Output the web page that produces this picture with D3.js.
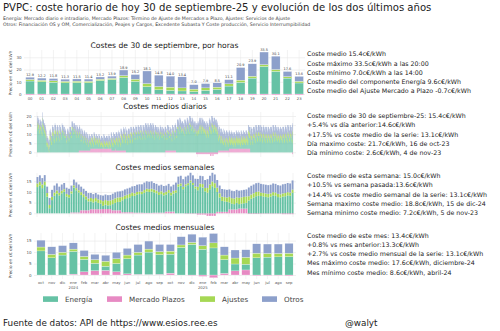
<!DOCTYPE html>
<html lang="es">
<head>
<meta charset="UTF-8">
<title>PVPC coste horario</title>
<script src="https://cdnjs.cloudflare.com/ajax/libs/d3/7.8.5/d3.min.js"></script>
<style>
  body { margin: 0; background: #fff; }
  svg { display: block; }
</style>
</head>
<body>
<svg width="500" height="331"></svg>
<script>
const FONT = "DejaVu Sans, Verdana, sans-serif";

// series order for stacking (plazos sits at the bottom) and for the legend
const stackKeys = ["plazos", "energia", "ajustes", "otros"];
const legendKeys = ["energia", "plazos", "ajustes", "otros"];
const colors = {energia: "#66c2a5", plazos: "#e78ac3", ajustes: "#a6d854", otros: "#8da0cb"};
const names = {energia: "Energía", plazos: "Mercado Plazos", ajustes: "Ajustes", otros: "Otros"};

// ---- hourly, 30 sep 2025 ----
const hours = ["00","01","02","03","04","05","06","07","08","09","10","11","12","13","14","15","16","17","18","19","20","21","22","23"];
const hourEnergia = [10.6,10.0,9.6,9.1,9.3,9.2,11.0,11.8,13.5,10.3,6.0,3.5,3.0,2.5,2.0,3.0,3.8,6.5,9.5,13.0,22.5,18.5,13.0,9.0];
const hourPlazos = [-0.8,-0.8,-0.8,-0.8,-0.8,-0.8,-0.7,-0.7,-0.7,-0.7,-0.7,-0.6,-0.6,-0.6,-0.6,-0.6,-0.6,-0.6,-0.7,-0.8,-0.8,-0.8,-0.8,-0.8];
const hourAjustes = [1.3,1.2,1.2,1.2,1.2,1.2,1.1,1.0,1.5,1.8,2.5,2.6,2.6,2.5,2.0,2.0,1.8,1.8,1.8,1.5,1.5,1.5,1.2,1.4];
const hourOtros = [1.8,1.8,1.8,1.8,1.8,1.8,1.8,1.8,4.6,3.8,10.3,9.3,9.0,9.0,3.6,3.5,3.5,3.4,10.3,10.2,10.3,10.9,4.2,4.0];
const hourInfo = [
  "Coste medio 15.4c€/kWh",
  "Coste máximo 33.5c€/kWh a las 20:00",
  "Coste mínimo 7.0c€/kWh a las 14:00",
  "Coste medio del componente Energía 9.6c€/kWh",
  "Coste medio del Ajuste Mercado a Plazo -0.7c€/kWh"
];

// ---- daily, 1 oct 2023 .. 30 sep 2025 (one line per week, Mon..Sun) ----
const dailyEnergia = [
  12,
  14,15,14,13,13,11,10, 13,13,12,12,12,10,9, 17,14,13,12,13,11,10, 11,10,9,8,7,4,3,
  4,3,3,2,1,0,2, 7,8,7,6,6,4,4, 9,10,9,9,8,6,5, 10,11,10,10,9,7,6,
  10,10,9,9,8,7,6, 11,11,10,10,9,8,7, 12,11,11,11,10,9,8, 10,10,9,8,8,6,5, 6,8,9,9,8,7,6,
  7,10,10,10,10,8,8, 13,13,13,12,12,10,10, 12,12,11,11,10,9,8, 11,11,10,10,9,8,8,
  10,9,9,8,7,5,5, 8,8,7,7,6,5,4, 7,7,6,6,5,4,3, 6,6,5,5,4,3,2,
  5,5,4,4,3,2,1, 4,4,4,3,3,2,1, 5,5,4,4,3,2,2, 4,4,3,3,3,2,1, 4,4,3,3,2,1,1,
  2,2,2,1,1,1,0, 3,3,2,2,1,1,1, 2,2,2,2,1,1,0, 2,3,2,2,1,1,0,
  4,4,4,3,3,2,2, 5,5,4,4,4,2,2, 5,5,5,5,4,3,2, 5,6,5,5,4,3,2,
  7,7,6,6,5,4,4, 7,8,7,7,6,4,4, 8,8,7,7,7,5,4, 8,8,8,8,7,5,5, 9,9,9,8,8,6,5,
  10,10,10,9,9,7,7, 10,11,10,10,10,8,7, 11,11,10,10,10,8,7, 11,11,11,10,9,8,7,
  11,11,10,10,9,8,7, 11,11,11,10,10,9,8, 11,11,10,9,10,9,8, 11,11,11,10,10,9,8,
  11,11,10,10,9,8,7, 11,11,10,10,10,9,8, 10,10,10,9,9,8,7, 11,10,10,10,9,8,8, 10,10,9,9,9,8,7,
  10,9,9,8,8,6,6, 10,10,10,9,9,7,7, 9,9,8,8,8,6,5, 10,10,9,9,8,7,6,
  10,11,10,10,9,8,8, 13,13,13,13,12,11,10, 14,14,13,13,12,11,11, 12,12,12,11,11,10,9,
  13,13,13,12,12,11,10, 14,14,13,13,12,11,10, 15,15,15,14,14,12,12, 14,14,13,13,12,11,11, 12,12,9,11,12,10,11,
  11,11,9,11,11,10,10, 12,13,13,13,12,11,10, 13,13,12,12,12,11,10, 11,11,11,10,10,9,8,
  11,11,10,10,10,9,8, 12,13,12,12,11,10,10, 14,14,14,13,13,11,11, 13,13,13,12,12,11,10,
  12,12,11,10,9,6,5, 8,7,7,6,6,4,4, 6,6,5,4,4,3,3, 6,5,5,4,4,3,2, 5,5,5,4,4,3,2,
  4,4,4,3,3,2,2, 4,3,3,3,2,2,1, 3,3,3,3,2,2,1, 4,4,3,3,3,2,2,
  4,3,3,3,2,2,1, 4,4,3,3,2,2,2, 4,4,3,3,3,2,2, 4,4,4,3,3,2,2,
  7,7,6,6,6,4,4, 8,8,7,7,7,5,4, 8,8,8,8,7,6,5, 9,9,9,8,8,6,6, 9,9,9,9,8,6,6,
  9,9,8,8,8,6,5, 8,9,8,8,7,6,5, 8,8,8,8,7,6,5, 8,8,8,7,7,6,5,
  8,8,8,8,7,6,5, 9,9,9,8,8,6,6, 9,9,8,8,7,6,6, 8,8,8,7,7,6,5, 8,8,7,7,7,6,5,
  8,8,8,8,7,6,5, 9,8,8,8,7,6,5, 9,9,9,8,8,6,6, 9,9,8,8,8,6,5,
  9,10
];
// one line per month
const dailyPlazos = [
  0,0,0,0,0,0,0,0,0,0, 0,0,0,0,0,0,0,0,0,0, 0,0,0,0,0,0,0,0,0,0, 0,
  0,0,0,0,0,0,0,0,0,0, 0,0,0,0,0,0,0,0,0,0, 0,0,0,0,0,0,0,0,0,0,
  0,0,0,0,0,0,0,0,0,0, 0,0,0,0,0,0,0,0,0,0, 0,0,0,0,0,0,0,0,0,0, 0,
  0,0,0,0,0,0,0,0,0,0, 0,0,0,0,0,0,0,0,0,0, 0,0,0,0,0,0,0,1,1,1, 1,
  1,1,1,1,1,1,1,1,1,1, 1,1,1,1,1,1,1,1,1,1, 1,1,1,1,1,1,1,1,1,
  2,2,2,2,2,2,2,2,2,2, 2,2,2,2,2,2,2,2,2,2, 2,2,2,2,2,2,2,2,2,2, 2,
  2,2,2,2,2,2,2,2,2,2, 2,2,2,2,2,2,2,2,2,2, 2,2,2,2,2,2,2,2,2,2,
  1,1,1,1,1,1,1,1,1,1, 2,2,1,1,1,1,1,1,1,1, 1,1,1,1,1,1,1,1,1,1, 1,
  1,1,1,1,1,1,1,1,1,1, 0,0,0,0,0,0,0,0,0,0, 0,0,0,0,0,0,0,0,0,0,
  0,0,0,0,0,0,0,0,0,0, 0,0,0,0,0,0,0,0,0,0, 0,0,0,0,0,0,0,0,0,0, 0,
  0,0,0,0,0,0,0,0,0,0, 0,0,0,0,0,0,0,0,0,0, 0,0,0,0,0,0,0,0,0,0, 0,
  0,0,0,0,0,0,0,0,0,0, 0,0,0,0,0,0,0,0,0,0, 0,0,0,0,0,0,0,0,0,0,
  1,1,1,1,1,1,1,1,1,1, 1,1,1,1,1,1,1,1,1,1, 1,1,1,1,1,1,1,1,1,1, 1,
  0,0,0,0,0,0,0,0,0,0, 0,0,0,0,0,0,0,0,0,0, 0,0,0,0,0,0,0,0,0,0,
  0,0,0,0,0,0,0,0,0,0, 0,0,0,0,0,0,0,0,0,0, 0,0,0,0,0,0,0,-1,-1,-1, -1,
  -1,-1,-1,-1,-1,-1,-1,-1,-1,-1, -1,-1,-1,-1,-1,-1,-1,-1,-1,-1, -1,-1,-1,-1,-1,-1,-1,-1,-1,-1, -1,
  -1,-1,-1,-1,-1,-2,-2,-2,-2,-1, -1,-1,-2,-2,-2,-1,-1,-1,-1,-1, -1,-1,-1,-1,-1,-1,-1,-1,
  1,1,1,1,1,1,1,1,1,1, 1,1,1,1,1,1,1,1,1,1, 1,1,1,1,1,1,1,1,1,1, 1,
  2,2,2,2,2,2,2,2,2,2, 2,2,2,2,2,2,2,2,2,2, 2,2,2,2,2,2,2,2,2,2,
  2,2,2,2,2,2,2,2,2,2, 2,2,2,2,2,2,2,2,2,2, 2,2,2,2,2,2,2,2,2,2, 2,
  0,0,0,0,0,0,0,0,0,0, 0,0,0,0,0,0,0,0,0,0, 0,0,0,0,0,0,0,0,0,0,
  0,0,0,0,0,0,0,0,0,0, 0,0,0,0,0,0,0,0,0,0, 0,0,0,0,0,0,0,0,0,0, 0,
  0,0,0,0,0,0,0,0,0,0, 0,0,0,0,0,0,0,0,0,0, 0,0,0,0,0,0,0,0,0,0, 0,
  0,0,0,0,0,0,0,0,0,0, 0,0,0,0,0,0,0,0,0,0, 0,0,0,0,0,0,0,0,-1,-1
];
const dailyAjustes = [
  2,2,2,2,2,2,2,2,2,2, 2,2,2,2,2,2,2,2,2,2, 2,2,2,2,2,2,2,2,2,2, 2,
  2,2,2,1,2,2,2,2,2,2, 2,2,2,2,2,2,2,2,2,2, 2,2,2,2,2,2,2,2,2,2,
  1,1,1,1,1,1,1,1,1,1, 1,1,1,1,1,1,1,1,1,1, 1,1,1,1,1,1,1,1,1,1, 1,
  1,1,1,1,1,1,1,1,1,1, 1,1,1,1,1,1,1,1,1,1, 1,1,1,1,1,1,1,1,1,1, 1,
  1,1,1,1,1,1,1,1,1,1, 1,1,1,1,1,1,1,1,1,1, 1,1,1,1,1,1,1,1,1,
  2,2,2,2,2,2,2,2,2,2, 2,2,2,2,2,2,2,2,2,2, 2,2,2,2,2,2,2,2,2,2, 2,
  2,2,2,2,2,2,2,2,2,2, 2,2,2,2,2,2,2,2,2,2, 2,2,2,2,2,2,2,2,2,2,
  2,2,2,2,2,2,2,2,2,2, 2,2,2,2,2,2,2,2,2,2, 2,2,2,2,2,2,2,2,2,2, 2,
  2,2,2,2,2,2,2,2,2,2, 2,2,2,2,2,2,2,2,2,2, 2,2,2,2,2,2,2,2,2,2,
  1,1,1,1,1,1,1,1,1,1, 1,1,1,1,1,1,1,1,1,1, 1,1,1,1,1,1,1,1,1,1, 1,
  1,1,1,1,1,1,1,1,1,1, 1,1,1,1,1,1,1,1,1,1, 1,1,1,1,1,1,1,1,1,1, 1,
  1,1,1,1,1,1,1,1,1,1, 1,1,1,1,1,1,1,1,1,1, 1,1,1,1,1,1,1,1,1,1,
  1,1,1,1,1,1,1,1,1,1, 1,1,1,1,1,1,1,1,1,1, 1,1,1,1,1,1,1,1,1,1, 1,
  1,1,1,1,1,1,1,1,1,1, 1,1,1,1,1,1,1,1,1,1, 1,1,1,1,1,1,1,1,1,1,
  1,1,1,1,1,1,1,1,1,1, 1,1,1,1,1,1,1,1,1,1, 1,1,1,1,1,1,1,1,1,1, 1,
  2,2,2,2,2,2,2,2,2,2, 2,2,2,2,2,2,2,2,2,2, 2,2,2,2,2,2,2,2,2,2, 2,
  2,2,2,2,2,2,2,2,2,2, 2,2,2,2,2,2,2,2,2,2, 2,2,2,2,2,2,2,2,
  2,2,2,2,2,2,2,2,2,2, 2,2,2,2,2,2,2,2,2,2, 2,2,2,2,2,2,2,2,2,2, 2,
  3,3,3,3,3,3,3,3,3,3, 3,3,3,3,3,3,3,3,3,3, 3,3,3,3,3,3,3,3,3,3,
  3,3,3,3,3,3,3,3,3,3, 3,3,3,3,3,3,3,3,3,3, 3,3,3,3,3,3,3,3,3,3, 3,
  2,2,2,2,2,2,2,2,2,2, 2,2,2,2,2,2,2,2,2,2, 2,2,2,2,2,2,2,2,2,2,
  2,2,2,2,2,2,2,2,2,2, 2,2,2,2,2,2,2,2,2,2, 2,2,2,2,2,2,2,2,2,2, 2,
  2,2,2,2,2,2,2,2,2,2, 2,2,2,2,2,2,2,2,2,2, 2,2,2,2,2,2,2,2,2,2, 2,
  2,2,2,2,2,2,2,2,2,2, 2,2,2,2,2,2,2,2,2,2, 2,2,2,2,2,2,2,2,2,2
];
const dailyOtros = [
  3,3,3,3,3,3,3,3,3,3, 3,3,3,3,3,3,3,3,3,3, 3,3,3,3,3,3,3,3,3,3, 3,
  3,3,3,2,3,3,3,3,3,3, 3,3,3,3,3,3,3,3,3,3, 3,3,3,3,3,3,3,3,3,3,
  3,3,3,3,3,3,3,3,3,3, 3,3,3,3,3,3,3,3,3,3, 3,3,3,3,3,3,3,3,3,3, 3,
  3,3,3,3,3,3,3,3,3,3, 3,3,3,3,3,3,3,3,3,3, 3,3,3,3,3,3,3,3,3,3, 3,
  3,3,3,3,3,3,3,3,3,3, 3,3,3,3,3,3,3,3,3,3, 3,3,3,3,3,3,3,3,3,
  2,2,2,2,2,2,2,2,2,2, 2,2,2,2,2,2,2,2,2,2, 2,2,2,2,2,2,2,2,2,2, 2,
  3,3,3,3,3,3,3,3,3,3, 3,3,3,3,3,3,3,3,3,3, 3,3,3,3,3,3,3,3,3,3,
  3,3,3,3,3,3,3,3,3,3, 3,3,3,3,3,3,3,3,3,3, 3,3,3,3,3,3,3,3,3,3, 3,
  3,3,3,3,3,3,3,3,3,3, 3,3,3,3,3,3,3,3,3,3, 3,3,3,3,3,3,3,3,3,3,
  3,3,3,3,3,3,3,3,3,3, 3,3,3,3,3,3,3,3,3,3, 3,3,3,3,3,3,3,3,3,3, 3,
  4,4,4,4,4,4,4,4,4,4, 4,4,4,4,4,4,4,4,4,4, 4,4,4,4,4,4,4,4,4,4, 4,
  3,3,3,3,3,3,3,3,3,3, 3,3,3,3,3,3,3,3,3,3, 3,3,3,3,3,3,3,3,3,3,
  3,3,3,3,3,3,3,3,3,3, 3,3,3,3,3,3,3,3,3,3, 3,3,3,3,3,3,3,3,3,3, 3,
  4,4,4,4,4,4,4,4,4,4, 4,4,4,4,4,4,4,4,4,4, 4,4,4,4,4,4,4,4,4,4,
  4,4,4,4,4,4,4,4,4,4, 4,4,4,4,4,4,4,4,4,4, 4,4,4,4,4,4,4,4,4,4, 4,
  4,4,4,4,4,4,4,4,4,4, 4,4,4,4,4,4,4,4,4,4, 4,4,4,4,4,4,4,4,4,4, 4,
  4,4,4,4,4,4,4,4,4,4, 4,4,4,4,4,4,4,4,4,4, 4,4,4,4,4,4,4,4,
  4,4,4,4,4,4,4,4,4,4, 4,4,4,4,4,4,4,4,4,4, 4,4,4,4,4,4,4,4,4,4, 4,
  3,3,3,3,3,3,3,3,3,3, 3,3,3,3,3,3,3,3,3,3, 3,3,3,3,3,3,3,3,3,3,
  3,3,3,3,3,3,3,3,3,3, 3,3,3,3,3,3,3,3,3,3, 3,3,3,3,3,3,3,3,3,3, 3,
  4,4,4,4,4,4,4,4,4,4, 4,4,4,4,4,4,4,4,4,4, 4,4,4,4,4,4,4,4,4,4,
  4,4,4,4,4,4,4,4,4,4, 4,4,4,4,4,4,4,4,4,4, 4,4,4,4,4,4,4,4,4,4, 4,
  4,4,4,4,4,4,4,4,4,4, 4,4,4,4,4,4,4,4,4,4, 4,4,4,4,4,4,4,4,4,4, 4,
  4,4,4,4,4,4,4,4,4,4, 4,4,4,4,4,4,4,4,4,4, 4,4,4,4,4,4,4,4,4,4
];
const dayInfo = [
  "Coste medio de 30 de septiembre-25: 15.4c€/kWh",
  "+5.4% vs día anterior:14.6c€/kWh",
  "+17.5% vs coste medio de la serie: 13.1c€/kWh",
  "Día maximo coste: 21.7c€/kWh, 16 de oct-23",
  "Día mínimo coste: 2.6c€/kWh, 4 de nov-23"
];

// ---- weekly (weeks ending on Sunday, 1 oct 2023 .. 5 oct 2025) ----
const weekEnergia = [12.3,13.1,11.8,13.2,7.8,2.4,6.2,8.2,9.2,8.4, 9.4,10.1,7.9,7.4,8.9,11.7,10.4,9.4,7.2,6.2,
  5.2,4.2,3.7,3.2,3.7,3.0,2.7,1.5,2.0,1.7, 1.8,2.9,3.5,3.9,4.0,5.6,6.2,6.6,7.0,7.6,
  7.9,8.5,8.7,8.7,9.4,10.0,9.8,10.0,9.5,9.1, 8.3,8.7,8.1,8.0,8.8,7.6,8.4,9.7,12.5,12.9,
  11.3,12.7,13.2,14.5,13.3,11.7,10.8,12.3,12.1,10.3, 9.7,11.3,12.7,11.9,9.3,6.7,5.1,4.9,4.7,3.3,
  2.7,2.5,3.1,2.1,2.3,2.5,2.7,6.0,6.8,7.4, 8.0,8.2,8.1,7.9,7.7,7.5,7.8,8.4,8.2,7.6,
  7.4,7.8,8.0,8.4,8.2,9.6];
const weekPlazos = [0,0,0,0,0, 0,0,0,0, 0,0,0,0,0, 0.4,0.4,0.4,0.4, 1.4,1.4,1.4,1.4, 1.9,1.9,1.9,1.9,1.9,
  2.0,2.0,2.0,2.0, 1.4,1.4,1.4,1.4, 0.5,0.5,0.5,0.5,0.5, 0.3,0.3,0.3,0.3, 0.2,0.2,0.2,0.2, 0.3,0.3,0.3,0.3,0.3,
  0.8,0.8,0.8,0.8, 0,0,0,0, -0.2,-0.2,-0.2,-0.2,-0.2, -0.6,-0.6,-0.6,-0.6, -1.2,-1.2,-1.2,-1.2, 0.7,0.7,0.7,0.7,0.7,
  1.8,1.8,1.8,1.8, 2.2,2.2,2.2,2.2, -0.3,-0.3,-0.3,-0.3,-0.3, -0.2,-0.2,-0.2,-0.2, -0.2,-0.2,-0.2,-0.2,-0.2, -0.4,-0.4,-0.4,-0.4,-0.4];
const weekAjustes = [1.7,1.7,1.7,1.7,1.7, 1.5,1.5,1.5,1.5, 1.2,1.2,1.2,1.2,1.2, 1.0,1.0,1.0,1.0, 1.3,1.3,1.3,1.3, 1.6,1.6,1.6,1.6,1.6,
  2.2,2.2,2.2,2.2, 2.1,2.1,2.1,2.1, 1.6,1.6,1.6,1.6,1.6, 1.2,1.2,1.2,1.2, 1.3,1.3,1.3,1.3, 1.3,1.3,1.3,1.3,1.3,
  1.3,1.3,1.3,1.3, 1.1,1.1,1.1,1.1, 0.9,0.9,0.9,0.9,0.9, 1.6,1.6,1.6,1.6, 2.2,2.2,2.2,2.2, 2.0,2.0,2.0,2.0,2.0,
  2.6,2.6,2.6,2.6, 3.0,3.0,3.0,3.0, 2.0,2.0,2.0,2.0,2.0, 1.6,1.6,1.6,1.6, 1.5,1.5,1.5,1.5,1.5, 1.5,1.5,1.5,1.5,1.5];
const weekOtros = [3.0,3.0,3.0,3.0,3.0, 3.3,3.3,3.3,3.3, 2.9,2.9,2.9,2.9,2.9, 2.7,2.7,2.7,2.7, 2.6,2.6,2.6,2.6, 2.3,2.3,2.3,2.3,2.3,
  2.6,2.6,2.6,2.6, 2.8,2.8,2.8,2.8, 2.9,2.9,2.9,2.9,2.9, 3.4,3.4,3.4,3.4, 3.5,3.5,3.5,3.5, 3.1,3.1,3.1,3.1,3.1,
  2.9,2.9,2.9,2.9, 3.6,3.6,3.6,3.6, 3.6,3.6,3.6,3.6,3.6, 3.7,3.7,3.7,3.7, 4.1,4.1,4.1,4.1, 3.6,3.6,3.6,3.6,3.6,
  3.5,3.5,3.5,3.5, 3.3,3.3,3.3,3.3, 4.1,4.1,4.1,4.1,4.1, 4.1,4.1,4.1,4.1, 4.1,4.1,4.1,4.1,4.1, 4.3,4.3,4.3,4.3,4.3];
const weekInfo = [
  "Coste medio de esta semana: 15.0c€/kWh",
  "+10.5% vs semana pasada:13.6c€/kWh",
  "+14.4% vs coste medio semanal de la serie: 13.1c€/kWh",
  "Semana maximo coste medio: 18.8c€/kWh, 15 de dic-24",
  "Semana minimo coste medio: 7.2c€/kWh, 5 de nov-23"
];

// ---- monthly, oct 2023 .. sep 2025 ----
const months = ["oct","nov","dic","ene","feb","mar","abr","may","jun","jul","ago","sep",
                "oct","nov","dic","ene","feb","mar","abr","may","jun","jul","ago","sep"];
const monthYears = {3: "2024", 15: "2025"};
const monthEnergia = [10.5,7.5,8.7,9.9,5.4,3.2,1.8,3.6,6.6,8.4,9.8,8.6, 8.3,12.0,13.3,11.2,11.8,6.0,3.0,2.5,7.5,7.8,7.9,8.0];
const monthPlazos = [0,0,0,0.4,1.4,1.9,2.0,1.4,0.5,0.3,0.2,0.3, 0.8,0,-0.2,-0.6,-1.2,0.7,1.8,2.2,-0.3,-0.2,-0.2,-0.4];
const monthAjustes = [1.7,1.5,1.2,1.0,1.3,1.6,2.2,2.1,1.6,1.2,1.3,1.3, 1.3,1.1,0.9,1.6,2.2,2.0,2.6,3.0,2.0,1.6,1.5,1.5];
const monthOtros = [3.0,3.3,2.9,2.7,2.6,2.3,2.6,2.8,2.9,3.4,3.5,3.1, 2.9,3.6,3.6,3.7,4.1,3.6,3.5,3.3,4.1,4.1,4.1,4.3];
const monthInfo = [
  "Coste medio de este mes: 13.4c€/kWh",
  "+0.8% vs mes anterior:13.3c€/kWh",
  "+2.7% vs coste medio mensual de la serie: 13.1c€/kWh",
  "Mes máximo coste medio: 17.6c€/kWh, diciembre-24",
  "Mes mínimo coste medio: 8.6c€/kWh, abril-24"
];

const svg = d3.select("svg").attr("font-family", FONT);
const stack = d3.stack().keys(stackKeys).offset(d3.stackOffsetDiverging);

function rows(en, pl, aj, ot) {
  return en.map((e, i) => ({energia: e, plazos: pl[i], ajustes: aj[i], otros: ot[i]}));
}

// time scale used only for the quarterly vertical grid lines of the long series
const tGrid = d3.scaleTime().domain([new Date(2023, 9, 1), new Date(2025, 9, 1)]).range([37, 293]);
const quarterLines = d3.timeMonth.every(3).range(new Date(2023, 9, 1), new Date(2025, 9, 2)).map(tGrid);

function drawPanel(p) {
  const g = svg.append("g");

  // vertical grid
  g.selectAll("line.vg").data(p.xGrid || []).join("line")
    .attr("x1", d => d).attr("x2", d => d)
    .attr("y1", p.top).attr("y2", p.bottom)
    .attr("stroke", "#ebebeb").attr("stroke-width", 0.6);

  // y axis with grid lines
  g.append("g").attr("transform", `translate(${p.x0},0)`)
    .call(d3.axisLeft(p.y).tickValues(p.yTicks).tickSize(-(p.x1 - p.x0)).tickPadding(2.5))
    .call(a => a.select(".domain").remove())
    .call(a => a.selectAll("line").attr("stroke", "#e6e6e6").attr("stroke-width", 0.6))
    .call(a => a.selectAll("text").attr("font-size", 4).attr("fill", "#555").attr("font-family", FONT));

  g.append("text")
    .attr("transform", `translate(12,${(p.top + p.bottom) / 2}) rotate(-90)`)
    .attr("text-anchor", "middle").attr("font-size", 4.3).attr("fill", "#444")
    .text("Precio en c€ del kWh");

  g.append("text")
    .attr("x", (p.x0 + p.x1) / 2).attr("y", p.titleY)
    .attr("text-anchor", "middle").attr("font-size", 7.6).attr("fill", "#222")
    .text(p.title);

  const series = stack(p.rows);
  g.selectAll("g.s").data(series).join("g").attr("fill", d => colors[d.key])
    .selectAll("rect").data(d => d).join("rect")
      .attr("x", (d, i) => p.x(i))
      .attr("width", p.x.bandwidth())
      .attr("y", d => p.y(Math.max(d[0], d[1])))
      .attr("height", d => Math.abs(p.y(d[0]) - p.y(d[1])))
      .attr("stroke", p.edge ? "#ffffff" : null)
      .attr("stroke-width", p.edge ? 0.25 : null);

  g.selectAll("text.info").data(p.info).join("text")
    .attr("x", 307).attr("y", (d, i) => p.infoY + i * 9.3)
    .attr("font-size", 6.3).attr("fill", "#222")
    .text(d => d);
  return g;
}

// ---- titles ----
svg.append("text").attr("x", 3).attr("y", 11).attr("font-size", 10.1).attr("fill", "#222")
  .text("PVPC: coste horario de hoy 30 de septiembre-25 y evolución de los dos últimos años");
svg.append("text").attr("x", 3).attr("y", 19.5).attr("font-size", 4.7).attr("fill", "#444")
  .text("Energía: Mercado diario e intradiario, Mercado Plazos: Término de Ajuste de Mercados a Plazo, Ajustes: Servicios de Ajuste");
svg.append("text").attr("x", 3).attr("y", 25.7).attr("font-size", 4.7).attr("fill", "#444")
  .text("Otros: Financiación OS y OM, Comercialización, Peajes y Cargos, Excedente Subasta Y Coste producción, Servicio Interrumpibilidad");

// ---- hourly panel ----
const hourRows = rows(hourEnergia, hourPlazos, hourAjustes, hourOtros);
const xHour = d3.scaleBand().domain(d3.range(hours.length)).range([24.2, 305]).paddingInner(0.26).paddingOuter(0.13);
const yHour = d3.scaleLinear().domain([0, 30]).range([94, 57.3]);
const gHour = drawPanel({
  rows: hourRows, x: xHour, y: yHour, x0: 24, x1: 305, top: 50, bottom: 96,
  yTicks: [0, 10, 20, 30], title: "Costes de 30 de septiembre, por horas", titleY: 48.3,
  info: hourInfo, infoY: 56.2, edge: true, xGrid: hours.map((h, i) => xHour(i) + xHour.bandwidth() / 2)
});
gHour.append("g").attr("transform", "translate(0,95)")
  .call(d3.axisBottom(xHour).tickSize(0).tickPadding(2).tickFormat(i => hours[i]))
  .call(a => a.select(".domain").remove())
  .call(a => a.selectAll("text").attr("font-size", 3.8).attr("fill", "#555").attr("font-family", FONT));
gHour.selectAll("text.val").data(hourRows).join("text")
  .attr("x", (d, i) => xHour(i) + xHour.bandwidth() / 2)
  .attr("y", d => yHour(d.energia + d.ajustes + d.otros + Math.max(d.plazos, 0)) - 1.3)
  .attr("text-anchor", "middle").attr("font-size", 3.5).attr("fill", "#444")
  .text(d => (d.energia + d.plazos + d.ajustes + d.otros).toFixed(1));

// ---- daily panel ----
const xDay = d3.scaleBand().domain(d3.range(dailyEnergia.length)).range([37, 293]).padding(0);
drawPanel({
  rows: rows(dailyEnergia, dailyPlazos, dailyAjustes, dailyOtros), x: xDay,
  y: d3.scaleLinear().domain([0, 20]).range([152.3, 116]),
  x0: 34, x1: 296, top: 112, bottom: 157, yTicks: [0, 5, 10, 15, 20], xGrid: quarterLines,
  title: "Costes medios diarios", titleY: 108.5, info: dayInfo, infoY: 118
});

// ---- weekly panel ----
const xWeek = d3.scaleBand().domain(d3.range(weekEnergia.length)).range([36.5, 293.5]).paddingInner(0.22);
drawPanel({
  rows: rows(weekEnergia, weekPlazos, weekAjustes, weekOtros), x: xWeek,
  y: d3.scaleLinear().domain([0, 15]).range([213.3, 181.3]),
  x0: 34, x1: 296, top: 173, bottom: 217, yTicks: [0, 5, 10, 15], xGrid: quarterLines,
  title: "Costes medios semanales", titleY: 170, info: weekInfo, infoY: 178
});

// ---- monthly panel ----
const xMonth = d3.scaleBand().domain(d3.range(months.length)).range([35.6, 294.4]).paddingInner(0.24).paddingOuter(0.12);
const gMonth = drawPanel({
  rows: rows(monthEnergia, monthPlazos, monthAjustes, monthOtros), x: xMonth,
  y: d3.scaleLinear().domain([0, 15]).range([275, 240.6]),
  x0: 34, x1: 296, top: 233, bottom: 279, yTicks: [0, 5, 10, 15],
  xGrid: months.map((m, i) => xMonth(i) + xMonth.bandwidth() / 2), edge: true,
  title: "Costes medios mensuales", titleY: 230, info: monthInfo, infoY: 237.5
});
gMonth.append("g").attr("transform", "translate(0,279)")
  .call(d3.axisBottom(xMonth).tickSize(0).tickPadding(2).tickFormat(i => months[i]))
  .call(a => a.select(".domain").remove())
  .call(a => a.selectAll("text").attr("font-size", 3.8).attr("fill", "#555").attr("font-family", FONT));
gMonth.selectAll("text.yr").data(Object.keys(monthYears)).join("text")
  .attr("x", i => xMonth(+i) + xMonth.bandwidth() / 2).attr("y", 289)
  .attr("text-anchor", "middle").attr("font-size", 3.8).attr("fill", "#555")
  .text(i => monthYears[i]);

// ---- legend ----
const legendX = {energia: 43, plazos: 107, ajustes: 200, otros: 262};
const lg = svg.append("g").selectAll("g").data(legendKeys).join("g")
  .attr("transform", d => `translate(${legendX[d]},296.3)`);
lg.append("rect").attr("width", 15).attr("height", 5.6).attr("fill", d => colors[d]);
lg.append("text").attr("x", 22).attr("y", 5.4).attr("font-size", 7.2).attr("fill", "#444").text(d => names[d]);

// ---- footer ----
svg.append("text").attr("x", 3).attr("y", 325.5).attr("font-size", 8.8).attr("fill", "#222")
  .text("Fuente de datos: API de https://www.esios.ree.es");
svg.append("text").attr("x", 345).attr("y", 325.5).attr("font-size", 8.8).attr("fill", "#222")
  .text("@walyt");
</script>
</body>
</html>
